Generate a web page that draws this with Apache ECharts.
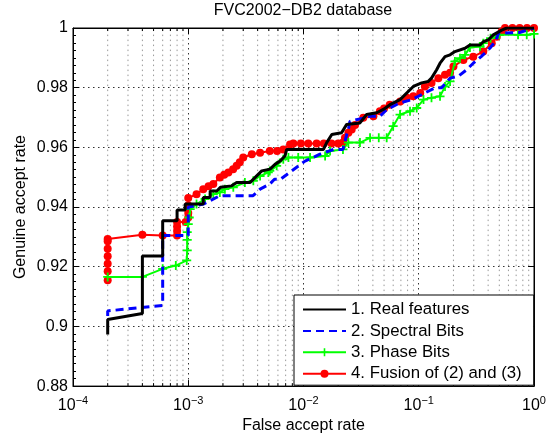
<!DOCTYPE html>
<html><head><meta charset="utf-8">
<script src="https://cdn.jsdelivr.net/npm/echarts@6/dist/echarts.min.js"></script>
<style>html,body{margin:0;padding:0;background:#fff}#c{width:556px;height:439px}</style>
</head><body><div id="c"></div>
<script>
const titleText = 'FVC2002\u2212DB2 database';
const seriesNames = ['1. Real features', '2. Spectral Bits', '3. Phase Bits', '4. Fusion of (2) and (3)'];
const xTickExponents = [-4, -3, -2, -1, 0];
const yTicks = [0.88, 0.9, 0.92, 0.94, 0.96, 0.98, 1];

const realFeatures = [[2e-4,0.8973],[2e-4,0.9023],[4e-4,0.9043],[4e-4,0.9236],[6e-4,0.9236],[6e-4,0.9354],[8e-4,0.9354],[8e-4,0.939],[9.4e-4,0.939],[9.4e-4,0.941],[1.35e-3,0.941],[1.35e-3,0.9432],[1.55e-3,0.9432],[1.55e-3,0.9454],[1.77e-3,0.9454],[1.9e-3,0.9466],[2.38e-3,0.9471],[2.63e-3,0.9482],[3.43e-3,0.9482],[4.34e-3,0.9521],[5.12e-3,0.9527],[5.66e-3,0.9543],[6.26e-3,0.9554],[6.9e-3,0.9571],[7.15e-3,0.9593],[1.49e-2,0.9593],[1.59e-2,0.9616],[1.76e-2,0.9643],[2.14e-2,0.9649],[2.37e-2,0.9677],[3.09e-2,0.9682],[3.53e-2,0.971],[4.32e-2,0.9716],[4.93e-2,0.9727],[5.63e-2,0.9743],[6.88e-2,0.976],[7.35e-2,0.9771],[8.97e-2,0.9804],[0.106,0.9816],[0.121,0.9821],[0.129,0.9832],[0.143,0.986],[0.153,0.9882],[0.169,0.9904],[0.187,0.991],[0.206,0.9921],[0.252,0.9932],[0.278,0.9943],[0.34,0.9943],[0.363,0.9954],[0.401,0.996],[0.443,0.9977],[0.525,0.9993],[0.58,1.0],[1.0,1.0]];

const spectralBits = [[2e-4,0.9035],[2e-4,0.9052],[6e-4,0.907],[6e-4,0.9305],[1e-3,0.9305],[1e-3,0.940],[1.35e-3,0.941],[1.88e-3,0.9438],[3.65e-3,0.9438],[4.2e-3,0.946],[5.1e-3,0.9477],[5.6e-3,0.9493],[6.3e-3,0.9493],[7.9e-3,0.9521],[1.03e-2,0.9554],[1.39e-2,0.9577],[1.82e-2,0.9593],[2.2e-2,0.9593],[2.37e-2,0.9643],[2.45e-2,0.966],[2.53e-2,0.9687],[3.78e-2,0.9704],[4.6e-2,0.9704],[5.27e-2,0.9727],[6.88e-2,0.9749],[8.7e-2,0.976],[0.11,0.978],[0.138,0.9799],[0.158,0.980],[0.187,0.9832],[0.22,0.9838],[0.26,0.986],[0.297,0.9882],[0.35,0.9905],[0.42,0.9935],[0.47,0.996],[0.49,0.9982],[0.75,0.9985],[1.0,1.0]];

const phaseBits = [[2e-4,0.9166],[4e-4,0.9166],[6e-4,0.9193],[7.8e-4,0.9204],[9.7e-4,0.9221],[9.8e-4,0.9255],[9.8e-4,0.929],[9.8e-4,0.9316],[1e-3,0.9343],[1.02e-3,0.9365],[1.04e-3,0.9393],[1.18e-3,0.941],[1.4e-3,0.9427],[1.65e-3,0.9443],[1.88e-3,0.9449],[2.08e-3,0.946],[2.46e-3,0.9466],[3.1e-3,0.9482],[3.67e-3,0.9488],[4.2e-3,0.9504],[4.95e-3,0.9516],[5.1e-3,0.9521],[5.85e-3,0.9538],[6.68e-3,0.956],[7.4e-3,0.9566],[9e-3,0.9566],[1.14e-2,0.9566],[1.54e-2,0.9571],[1.7e-2,0.9588],[2.2e-2,0.9593],[2.45e-2,0.9616],[3.09e-2,0.9616],[3.78e-2,0.9632],[4.5e-2,0.9632],[5.27e-2,0.9632],[6.0e-2,0.9671],[6.88e-2,0.971],[8.4e-2,0.9721],[9.6e-2,0.9732],[0.11,0.976],[0.129,0.9766],[0.153,0.9771],[0.169,0.9804],[0.187,0.9821],[0.206,0.9888],[0.228,0.9899],[0.252,0.991],[0.278,0.9935],[0.34,0.9938],[0.363,0.9949],[0.42,0.9966],[0.5,0.9977],[0.727,0.9977],[0.865,0.9977],[1.0,0.998]];

const fusion = [[2e-4,0.9155],[2e-4,0.9185],[2e-4,0.921],[2e-4,0.9235],[2e-4,0.926],[2e-4,0.9285],[2e-4,0.9293],[4e-4,0.9307],[6e-4,0.9305],[8e-4,0.9305],[8e-4,0.932],[8e-4,0.9335],[8e-4,0.935],[9.5e-4,0.935],[1e-3,0.9365],[1e-3,0.938],[1e-3,0.9405],[1e-3,0.943],[1.18e-3,0.9443],[1.35e-3,0.946],[1.5e-3,0.947],[1.65e-3,0.9477],[1.88e-3,0.9499],[2.05e-3,0.9508],[2.23e-3,0.9516],[2.45e-3,0.9527],[2.63e-3,0.9538],[2.8e-3,0.955],[3.0e-3,0.9566],[3.56e-3,0.9577],[4.2e-3,0.9582],[5.1e-3,0.9588],[5.9e-3,0.9588],[6.68e-3,0.9593],[7.64e-3,0.961],[8.17e-3,0.9613],[9.5e-3,0.9613],[1.1e-2,0.9613],[1.3e-2,0.9613],[1.5e-2,0.9613],[1.75e-2,0.9613],[2.0e-2,0.9613],[2.2e-2,0.9616],[2.29e-2,0.9632],[2.45e-2,0.9649],[2.62e-2,0.966],[2.8e-2,0.9675],[3.3e-2,0.9699],[4.04e-2,0.9704],[4.6e-2,0.9721],[5.0e-2,0.973],[5.6e-2,0.9743],[6.9e-2,0.9754],[7.9e-2,0.9766],[8.97e-2,0.9771],[0.103,0.9782],[0.113,0.9804],[0.129,0.9816],[0.148,0.9832],[0.169,0.9843],[0.187,0.985],[0.2,0.9871],[0.244,0.9893],[0.297,0.9904],[0.363,0.9921],[0.43,0.9949],[0.475,0.9971],[0.525,0.9988],[0.56,1.0],[0.65,1.0],[0.75,1.0],[0.87,1.0],[1.0,1.0]];

// minor log grid positions (2..9 times each decade)
const minorX = [];
for (let i = 0; i < xTickExponents.length - 1; i++) {
  for (let k = 2; k <= 9; k++) minorX.push([k * Math.pow(10, xTickExponents[i]), 0.88]);
}

const FONT = 'Liberation Sans, Arial, Helvetica, sans-serif';
const X_MIN = Math.pow(10, xTickExponents[0]), X_MAX = Math.pow(10, xTickExponents[xTickExponents.length - 1]);
const Y_MIN = yTicks[0], Y_MAX = yTicks[yTicks.length - 1];

const chart = echarts.init(document.getElementById('c'), null, {renderer: 'canvas'});
const crossPath = 'path://M4,0h2v4h4v2h-4v4h-2v-4h-4v-2h4z';

chart.setOption({
  animation: false,
  backgroundColor: '#fff',
  textStyle: {fontFamily: FONT},
  title: {
    text: titleText, left: 303, top: 3, padding: 0, textAlign: 'center',
    textStyle: {fontFamily: FONT, fontSize: 16, fontWeight: 'normal', color: '#000'}
  },
  legend: {
    data: [
      {name: seriesNames[0], itemStyle: {opacity: 0}},
      {name: seriesNames[1], itemStyle: {opacity: 0}},
      {name: seriesNames[2]},
      {name: seriesNames[3]}
    ],
    orient: 'vertical', left: 294, top: 295,
    padding: [6, 12, 3, 8], itemWidth: 43, itemHeight: 10, itemGap: 4.4,
    borderColor: '#000', borderWidth: 1, backgroundColor: '#fff', borderRadius: 0,
    textStyle: {fontFamily: FONT, fontSize: 16.8, color: '#000', lineHeight: 16},
    z: 20
  },
  grid: {left: 73, right: 22, top: 28, bottom: 51, show: true, borderColor: '#000', borderWidth: 1, backgroundColor: 'transparent'},
  xAxis: [{
    type: 'log', logBase: 10, min: X_MIN, max: X_MAX, position: 'bottom',
    axisLine: {show: true, lineStyle: {color: '#000', width: 1}},
    axisTick: {show: true, inside: true, length: 6, lineStyle: {color: '#000'}},
    axisLabel: {
      margin: 9, color: '#000',
      formatter: function (v) {
        const e = Math.round(Math.log10(v));
        return '{b|10}{s|' + (e < 0 ? '\u2212' + (-e) : e) + '}';
      },
      rich: {
        b: {fontFamily: FONT, fontSize: 16, lineHeight: 20, color: '#000'},
        s: {fontFamily: FONT, fontSize: 11, lineHeight: 11, verticalAlign: 'top', color: '#000'}
      }
    },
    splitLine: {show: true, lineStyle: {type: [1.5, 3.5], color: '#333', width: 1}},
    name: 'False accept rate', nameLocation: 'middle', nameGap: 31,
    nameTextStyle: {fontFamily: FONT, fontSize: 16, color: '#000'}
  }, {
    type: 'log', logBase: 10, min: X_MIN, max: X_MAX, position: 'top',
    axisLine: {show: true, lineStyle: {color: '#000'}},
    axisTick: {show: true, inside: true, length: 6, lineStyle: {color: '#000'}},
    axisLabel: {show: false}, splitLine: {show: false}
  }],
  yAxis: [{
    type: 'value', min: Y_MIN, max: Y_MAX, interval: 0.02, position: 'left',
    axisLine: {show: true, lineStyle: {color: '#000', width: 1}},
    axisTick: {show: true, inside: true, length: 6, lineStyle: {color: '#000'}},
    minorTick: {show: true, splitNumber: 8, length: 3, lineStyle: {color: '#000'}},
    axisLabel: {
      margin: 5, color: '#000', fontFamily: FONT, fontSize: 16,
      formatter: function (v) { return String(+v.toFixed(2)); }
    },
    splitLine: {show: true, lineStyle: {type: [1.5, 3.5], color: '#333', width: 1}},
    name: 'Genuine accept rate', nameLocation: 'middle', nameGap: 44, nameMoveOverlap: false,
    nameTextStyle: {fontFamily: FONT, fontSize: 16, color: '#000'}
  }, {
    type: 'value', min: Y_MIN, max: Y_MAX, interval: 0.02, position: 'right',
    axisLine: {show: true, lineStyle: {color: '#000'}},
    axisTick: {show: true, inside: true, length: 6, lineStyle: {color: '#000'}},
    axisLabel: {show: false}, splitLine: {show: false}
  }],
  series: [
    {
      type: 'custom', name: 'minorgrid', silent: true, z: 1,
      xAxisIndex: 0, yAxisIndex: 0,
      data: minorX, encode: {x: 0, y: 1},
      renderItem: function (params, api) {
        const x = api.value(0);
        const bot = api.coord([x, Y_MIN]);
        const top = api.coord([x, Y_MAX]);
        return {
          type: 'group',
          children: [
            {type: 'line', shape: {x1: bot[0], y1: bot[1], x2: top[0], y2: top[1]},
             style: {stroke: '#999', lineWidth: 1, lineDash: [1.5, 3.5]}},
            {type: 'line', shape: {x1: bot[0], y1: bot[1], x2: bot[0], y2: bot[1] - 3},
             style: {stroke: '#000', lineWidth: 1}},
            {type: 'line', shape: {x1: top[0], y1: top[1], x2: top[0], y2: top[1] + 3},
             style: {stroke: '#000', lineWidth: 1}}
          ]
        };
      }
    },
    {
      name: seriesNames[0], type: 'line', data: realFeatures, z: 6,
      symbol: 'none', lineStyle: {color: '#000', width: 3}, itemStyle: {color: '#000'}
    },
    {
      name: seriesNames[1], type: 'line', data: spectralBits, z: 5,
      symbol: 'none', lineStyle: {color: '#0000ff', width: 3, type: [8, 5]}, itemStyle: {color: '#0000ff'}
    },
    {
      name: seriesNames[2], type: 'line', data: phaseBits, z: 4,
      symbol: crossPath, symbolSize: 9, lineStyle: {color: '#00ff00', width: 2}, itemStyle: {color: '#00ff00'}
    },
    {
      name: seriesNames[3], type: 'line', data: fusion, z: 3,
      symbol: 'circle', symbolSize: 8, lineStyle: {color: '#ff0000', width: 2}, itemStyle: {color: '#ff0000'}
    }
  ]
});
</script>
</body></html>
